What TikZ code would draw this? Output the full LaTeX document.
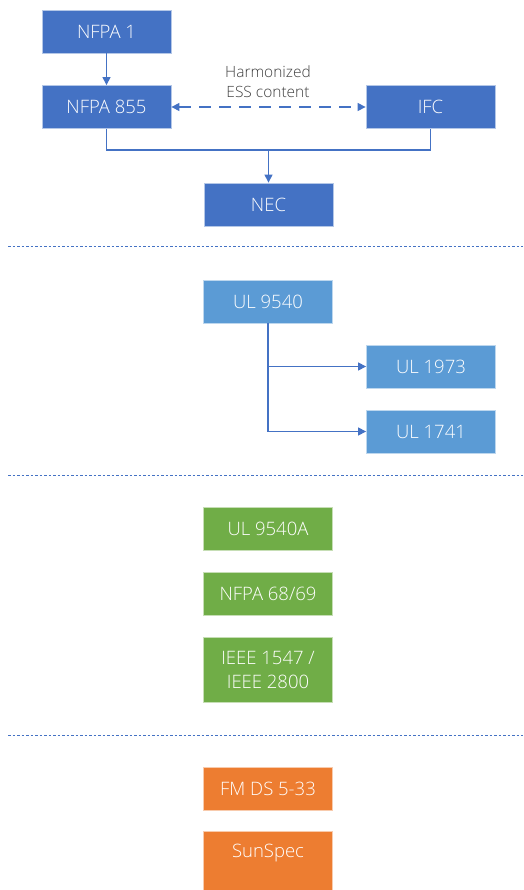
\documentclass[tikz,border=0pt]{standalone}
\usepackage{fontspec}
\setmainfont{Open Sans Light}
\usetikzlibrary{arrows.meta}
\definecolor{dkblue}{HTML}{4472C4}
\definecolor{ltblue}{HTML}{5B9BD5}
\definecolor{grn}{HTML}{70AD47}
\definecolor{org}{HTML}{ED7D31}
\definecolor{lbl}{HTML}{404040}
\tikzset{
  box/.style={rectangle, minimum width=129pt, minimum height=43pt, inner sep=0pt,
    text=white, font=\fontsize{18.5}{21}\selectfont, line width=0.8pt, align=center},
  bdark/.style={box, fill=dkblue, draw=dkblue!40!white},
  blight/.style={box, fill=ltblue, draw=ltblue!40!white},
  bgreen/.style={box, fill=grn, draw=grn!40!white},
  borange/.style={box, fill=org, draw=org!40!white},
  conn/.style={draw=dkblue, line width=1.2pt},
  arr/.style={-{Triangle[length=8pt,width=8pt]}},
  darr/.style={{Triangle[length=8pt,width=8pt]}-{Triangle[length=8pt,width=8pt]}, dash pattern=on 12pt off 8pt},
  sepline/.style={draw=dkblue, line width=1pt, dash pattern=on 2.5pt off 2pt},
  lab/.style={text=lbl, font=\fontsize{15.5}{20}\selectfont, align=center}
}
\begin{document}
\begin{tikzpicture}[x=1pt,y=-1pt]
\useasboundingbox (0,0) rectangle (523,890);
% top section
\node[bdark] (nfpa1) at (106.5,31.5) {NFPA 1};
\node[bdark] (nfpa855) at (106.5,107) {NFPA 855};
\node[bdark] (ifc) at (430.5,107) {IFC};
\node[bdark] (nec) at (268.5,204.5) {NEC};
\draw[conn,arr] (nfpa1) -- (nfpa855);
\draw[conn,darr] (nfpa855) -- (ifc);
\node[lab] (harm) at (268,82) {Harmonized\\ESS content};
\coordinate (bus) at (268.5,150);
\draw[conn] (nfpa855.south) |- (bus) -| (ifc.south);
\draw[conn,arr] (bus) -- (nec.north);
% separators
\coordinate (s1l) at (8,247); \coordinate (s1r) at (523,247);
\coordinate (s2l) at (8,475); \coordinate (s2r) at (523,475);
\coordinate (s3l) at (8,735); \coordinate (s3r) at (523,735);
\draw[sepline] (s1l) -- (s1r);
\draw[sepline] (s2l) -- (s2r);
\draw[sepline] (s3l) -- (s3r);
% UL section
\node[blight] (ul9540) at (268,301.5) {UL 9540};
\node[blight] (ul1973) at (431,366.5) {UL 1973};
\node[blight] (ul1741) at (431,431.5) {UL 1741};
\draw[conn,arr] (ul9540.south) |- (ul1973.west);
\draw[conn,arr] (ul9540.south) |- (ul1741.west);
% green section
\node[bgreen] (ul9540a) at (268,529) {UL 9540A};
\node[bgreen] (nfpa68) at (268,594) {NFPA 68/69};
\node[bgreen, minimum height=65pt, font=\fontsize{18.5}{24}\selectfont] (ieee) at (268,669.5) {IEEE 1547 /\\IEEE 2800};
% orange section
\node[borange, minimum height=0pt, text height=26pt, text depth=34pt] (sunspec) at (268,861) {SunSpec};
\node[borange] (fmds) at (268,789) {FM DS 5-33};
\end{tikzpicture}
\end{document}
